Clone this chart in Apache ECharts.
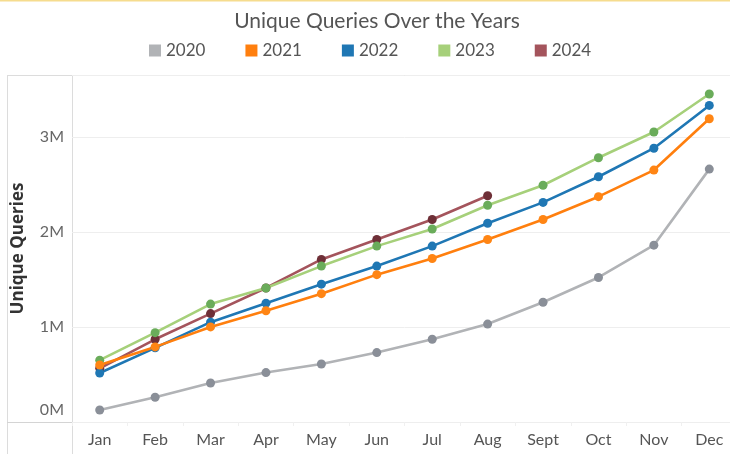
<!DOCTYPE html>
<html>
<head>
<meta charset="UTF-8">
<title>Unique Queries Over the Years</title>
<script src="https://cdn.jsdelivr.net/npm/echarts@6/dist/echarts.min.js"></script>
<style>
html, body { margin: 0; padding: 0; background: #fff; overflow: hidden; }
#main { width: 737px; height: 454px; }
</style>
</head>
<body>
<div id="main"></div>
<script>
var months = ['Jan', 'Feb', 'Mar', 'Apr', 'May', 'Jun', 'Jul', 'Aug', 'Sept', 'Oct', 'Nov', 'Dec'];
var years = ['2020', '2021', '2022', '2023', '2024'];
var q2020 = [126000, 260000, 410000, 520000, 610000, 730000, 870000, 1030000, 1260000, 1520000, 1860000, 2660000];
var q2021 = [600000, 790000, 1000000, 1170000, 1350000, 1550000, 1720000, 1920000, 2130000, 2370000, 2650000, 3190000];
var q2022 = [515000, 780000, 1050000, 1250000, 1450000, 1640000, 1850000, 2090000, 2310000, 2580000, 2880000, 3330000];
var q2023 = [650000, 940000, 1240000, 1410000, 1640000, 1850000, 2030000, 2280000, 2490000, 2780000, 3050000, 3450000];
var q2024 = [565000, 870000, 1140000, 1410000, 1710000, 1920000, 2130000, 2380000];
var yTicks = [0, 1000000, 2000000, 3000000];

var lineCol = { '2020': '#b1b3b6', '2021': '#ff7f0e', '2022': '#1f77b4', '2023': '#a6d07a', '2024': '#a4545c' };
var dotCol = { '2020': '#8a8f98', '2021': '#ff8514', '2022': '#1f77b4', '2023': '#6aac5a', '2024': '#6e2f37' };
var values = { '2020': q2020, '2021': q2021, '2022': q2022, '2023': q2023, '2024': q2024 };
// drawing order (later on top)
var drawOrder = ['2020', '2024', '2022', '2023', '2021'];

function mkSeries(y) {
    return {
        name: y,
        type: 'line',
        data: values[y],
        symbol: 'circle',
        symbolSize: 9,
        showAllSymbol: true,
        lineStyle: { width: 2.6, color: lineCol[y] },
        itemStyle: { color: dotCol[y], borderWidth: 0 },
        emphasis: { disabled: true }
    };
}

var chart = echarts.init(document.getElementById('main'));
var option = {
    animation: false,
    title: {
        text: 'Unique Queries Over the Years',
        left: 372, top: 6, textAlign: 'center',
        textStyle: { fontFamily: 'Lato', fontWeight: 'normal', fontSize: 21, color: '#555' }
    },
    legend: {
        data: years.map(function (y) { return { name: y, itemStyle: { color: lineCol[y] } }; }),
        left: 144, top: 37,
        icon: 'rect', itemWidth: 12, itemHeight: 12, itemGap: 40,
        textStyle: { fontFamily: 'Lato', fontSize: 17, color: '#555' }
    },
    grid: { left: 72, right: 0, top: 75, bottom: 32 },
    xAxis: {
        type: 'category',
        data: months,
        boundaryGap: true,
        axisLine: { show: false },
        axisTick: { show: true, length: 4, lineStyle: { color: '#f0f0f0' } },
        axisLabel: { fontFamily: 'Lato', fontSize: 16, color: '#555', margin: 10 }
    },
    yAxis: {
        type: 'value',
        min: 0, max: 3650000, interval: 1000000,
        name: 'Unique Queries',
        nameLocation: 'middle', nameGap: 45,
        nameTextStyle: { fontFamily: 'Open Sans', fontWeight: 'bold', fontSize: 17, color: '#333' },
        axisLine: { show: false },
        axisTick: { show: false },
        splitLine: { lineStyle: { color: '#eeeeee' } },
        axisLabel: {
            fontFamily: 'Lato', fontSize: 16, color: '#666', margin: 8,
            formatter: function (v) {
                if (yTicks.indexOf(v) < 0) return '';
                if (v === 0) return '{z|0M}';
                return (v / 1000000) + 'M';
            },
            rich: { z: { fontFamily: 'Lato', fontSize: 16, color: '#666', padding: [0, 0, 24, 0] } }
        }
    },
    graphic: [
        { type: 'line', shape: { x1: 0, y1: 0.5, x2: 737, y2: 0.5 }, style: { stroke: '#f6dc8e', lineWidth: 2 } },
        { type: 'line', shape: { x1: 7, y1: 75.5, x2: 737, y2: 75.5 }, style: { stroke: '#dcdcdc', lineWidth: 1 } },
        { type: 'line', shape: { x1: 7.5, y1: 75, x2: 7.5, y2: 454 }, style: { stroke: '#dcdcdc', lineWidth: 1 } },
        { type: 'line', shape: { x1: 72.5, y1: 75, x2: 72.5, y2: 454 }, style: { stroke: '#dcdcdc', lineWidth: 1 } },
        { type: 'line', shape: { x1: 7, y1: 422.5, x2: 737, y2: 422.5 }, style: { stroke: '#d4d4d4', lineWidth: 1 } }
    ],
    series: drawOrder.map(mkSeries)
};
chart.setOption(option);
</script>
</body>
</html>
